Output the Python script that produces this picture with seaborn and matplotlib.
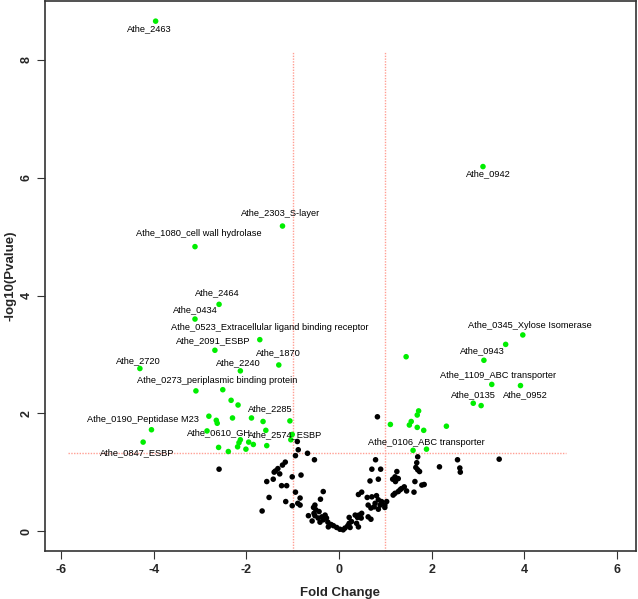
import matplotlib
matplotlib.use("Agg")
import matplotlib.pyplot as plt
import numpy as np
import pandas as pd
import seaborn as sns

# non-significant genes (black)
ns_fc = [-0.88, -0.94, -0.68, -0.53, -1.16, -1.22, -1.32, -1.37, -1.40, -1.28,
         -1.42, -1.56, -1.01, -0.82, -1.24, -1.13, -1.51, -0.94, -0.84, -0.34,
         -0.40, -1.15, -0.89, -0.84, -1.01, -1.66, -0.52, -0.55, -0.50, -0.43,
         -0.54, -0.52, -0.66, -0.30, -0.37, -0.45, -0.34, -0.27, -0.58, -0.41,
         -0.24, -0.17, -0.12, -0.23, -0.05, 0.02, 0.09, 0.13, 0.22, 0.22,
         -2.59, -0.90,
         0.79, 0.71, 0.90, 0.85, 0.67, 1.25, 1.21, 1.16, 1.28, 1.22,
         1.41, 1.35, 1.32, 1.28, 1.21, 1.46, 1.17,
         1.66, 1.70, 1.70, 1.68, 1.64, 1.79, 1.84, 1.62, 2.17,
         0.42, 0.49, 0.61, 0.71, 0.81, 0.85, 0.92, 0.99, 1.03, 0.89, 0.78, 0.76, 0.69, 0.85, 0.63, 0.99,
         0.49, 0.43, 0.40, 0.35, 0.48, 0.63, 0.69,
         0.27, 0.38, 0.24, 0.19, 0.42,
         0.83, 2.56, 2.61, 2.62, 3.46, 1.74]
ns_logp = [1.38, 1.28, 1.32, 1.21, 1.17, 1.12, 1.06, 1.02, 1.00, 0.97,
           0.88, 0.84, 0.92, 0.95, 0.77, 0.77, 0.57, 0.66, 0.56, 0.67,
           0.54, 0.50, 0.47, 0.44, 0.43, 0.34, 0.44, 0.40, 0.36, 0.33,
           0.30, 0.26, 0.26, 0.27, 0.24, 0.22, 0.19, 0.22, 0.17, 0.15,
           0.15, 0.11, 0.09, 0.07, 0.06, 0.03, 0.02, 0.05, 0.23, 0.13,
           1.05, 1.52,
           1.21, 1.05, 1.05, 0.88, 0.85, 1.01, 0.92, 0.88, 0.89, 0.84,
           0.75, 0.72, 0.70, 0.67, 0.64, 0.68, 0.61,
           1.08, 1.04, 1.26, 1.16, 0.84, 0.78, 0.79, 0.66, 1.09,
           0.62, 0.66, 0.57, 0.58, 0.60, 0.53, 0.50, 0.44, 0.50, 0.44, 0.47, 0.41, 0.39, 0.37, 0.44, 0.40,
           0.30, 0.27, 0.23, 0.27, 0.22, 0.24, 0.20,
           0.16, 0.13, 0.06, 0.09, 0.07,
           1.94, 1.21, 1.07, 1.00, 1.22, 1.01]

# significant genes without label (green)
sig_fc = [-3.09, -2.33, -2.18, -2.81, -2.65, -2.63, -2.30, -1.89, -1.06, -2.85,
          -1.58, -1.01, -2.13, -2.16, -1.95, -1.85, -1.56, -2.19, -2.01, -2.39,
          1.45, 3.60, 3.07, 1.72, 1.69, 1.56, 1.52, 1.11, 1.69, 1.83, 2.32, 1.60]
sig_logp = [2.38, 2.22, 2.14, 1.95, 1.88, 1.83, 1.92, 1.92, 1.87, 1.70,
            1.71, 1.64, 1.55, 1.50, 1.51, 1.47, 1.45, 1.43, 1.39, 1.35,
            2.96, 3.17, 2.13, 2.04, 1.97, 1.86, 1.80, 1.81, 1.76, 1.71, 1.78, 1.37]

# labelled significant genes
lab_names = ["Athe_2463", "Athe_2303_S-layer", "Athe_1080_cell wall hydrolase",
             "Athe_2464", "Athe_0434", "Athe_0523_Extracellular ligand binding receptor",
             "Athe_2091_ESBP", "Athe_1870", "Athe_2720", "Athe_2240",
             "Athe_0273_periplasmic binding protein", "Athe_2285",
             "Athe_0190_Peptidase M23", "Athe_0610_GH", "Athe_2574_ESBP",
             "Athe_0847_ESBP", "Athe_0942", "Athe_0345_Xylose Isomerase",
             "Athe_0943", "Athe_1109_ABC transporter", "Athe_0952",
             "Athe_0135", "Athe_0106_ABC transporter"]
lab_fc = [-3.96, -1.22, -3.11, -2.59, -3.11, -1.71, -2.68, -1.30, -4.30, -2.13,
          -2.51, -1.64, -4.05, -2.60, -1.04, -4.23, 3.11, 3.97, 3.13, 3.30,
          3.92, 2.90, 1.89]
lab_logp = [8.66, 5.18, 4.83, 3.85, 3.60, 3.25, 3.07, 2.82, 2.76, 2.72,
            2.40, 1.86, 1.72, 1.42, 1.55, 1.51, 6.19, 3.33, 2.90, 2.49,
            2.47, 2.17, 1.39]
# label offsets from the point, in pixels (x right, y up)
lab_dx = [-6, -2, 4, -2, 0, 10, -2, 0, -2, -2, -6, 7, -9, 0, -6, -6, 5, 7, -2, 6, 5, 0, 0]
lab_dy = [-8, 13, 13, 12, 9, 12, 10, 12, 8, 8, 9, 13, 10, 15, 5, -11, -7, 9, 10, 9, -9, 9, 7]

sns.set_style("ticks")
plt.rcParams["font.family"] = ["Liberation Sans", "DejaVu Sans"]
plt.rcParams["axes.unicode_minus"] = False

df = pd.DataFrame({
    "fc": ns_fc + sig_fc + lab_fc,
    "logp": ns_logp + sig_logp + lab_logp,
    "group": ["ns"] * len(ns_fc) + ["sig"] * (len(sig_fc) + len(lab_fc)),
})

fig = plt.figure(figsize=(6.38, 5.99), dpi=100)
ax = fig.add_axes([0.0705, 0.0801, 0.926, 0.918])

line_col = "#ff9f94"
ax.vlines([-1, 1], -0.34, 8.13, colors=line_col, linestyles=(0, (1, 1)), linewidth=1.0, zorder=1)
ax.hlines(1.33, -5.85, 4.9, colors=line_col, linestyles=(0, (1, 1)), linewidth=1.0, zorder=1)

sns.scatterplot(data=df, x="fc", y="logp", hue="group",
                palette={"ns": "black", "sig": "#00ee00"},
                s=16, linewidth=0, legend=False, ax=ax, zorder=3)

for name, x, y, dx, dy in zip(lab_names, lab_fc, lab_logp, lab_dx, lab_dy):
    ax.annotate(name, (x, y), xytext=(dx, dy), textcoords="offset pixels",
                ha="center", va="center", fontsize=6.7, color="black", zorder=4)

ax.set_xlim(-6.35, 6.41)
ax.set_ylim(-0.34, 9.0)
ax.set_xticks([-6, -4, -2, 0, 2, 4, 6])
ax.set_yticks([0, 2, 4, 6, 8])
ax.set_xlabel("Fold Change", fontsize=9.5, fontweight="bold", labelpad=8)
ax.set_ylabel("-log10(Pvalue)", fontsize=9.5, fontweight="bold", labelpad=3)
ax.tick_params(direction="out", length=6, width=0.8, color="#333333", labelsize=9, pad=3)
for lbl in ax.get_xticklabels() + ax.get_yticklabels():
    lbl.set_fontweight("bold")
for lbl in ax.get_yticklabels():
    lbl.set_rotation(90)
    lbl.set_va("center")
for sp in ax.spines.values():
    sp.set_visible(True)
    sp.set_color("#333333")
    sp.set_linewidth(1.2)

fig.savefig("out.png", dpi=100)
